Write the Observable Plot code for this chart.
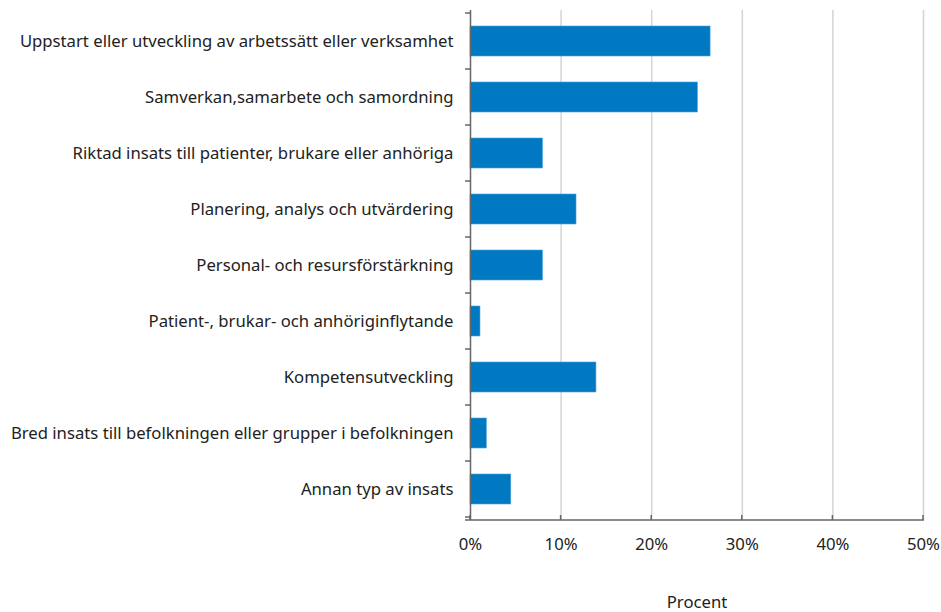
<!DOCTYPE html>
<html>
<head>
<meta charset="utf-8">
<script src="https://cdn.jsdelivr.net/npm/d3@7"></script>
<script src="https://cdn.jsdelivr.net/npm/@observablehq/plot@0.6"></script>
<style>
  html, body { margin: 0; padding: 0; background: #fff; }
  svg { font-family: "Noto Sans", sans-serif; }
</style>
</head>
<body>
<div id="chart"></div>
<script>
const categories = [
  "Uppstart eller utveckling av arbetssätt eller verksamhet",
  "Samverkan,samarbete och samordning",
  "Riktad insats till patienter, brukare eller anhöriga",
  "Planering, analys och utvärdering",
  "Personal- och resursförstärkning",
  "Patient-, brukar- och anhöriginflytande",
  "Kompetensutveckling",
  "Bred insats till befolkningen eller grupper i befolkningen",
  "Annan typ av insats"
];
const values = [26.5, 25.1, 8.0, 11.7, 8.0, 1.1, 13.9, 1.8, 4.5];
const xTicks = [0, 10, 20, 30, 40, 50];
const xLabel = "Procent";

const data = categories.map((c, i) => ({category: c, value: values[i]}));

const chart = Plot.plot({
  width: 941,
  height: 612,
  marginTop: 10,
  marginBottom: 92,
  marginLeft: 470,
  marginRight: 18,
  style: {fontSize: "16.7px", fontFamily: "'Noto Sans', sans-serif", color: "#222"},
  x: {domain: [0, 50], ticks: xTicks, tickFormat: d => d + "%", tickSize: 0, tickPadding: 18, label: null},
  y: {domain: categories, paddingInner: 0.46, paddingOuter: 0.23, tickSize: 0, tickPadding: 17, label: null},
  marks: [
    Plot.ruleX(xTicks.filter(d => d > 0), {stroke: "#d4d4d4", strokeWidth: 1.5}),
    Plot.barX(data, {y: "category", x: "value", fill: "#0079c2", stroke: "#4aa3dc", strokeWidth: 0.6}),
    Plot.ruleX([0], {stroke: "#666", strokeWidth: 1.5}),
    Plot.text([xLabel], {frameAnchor: "bottom", dy: 87, fontSize: 16.7, fill: "#222"})
  ]
});

// axis decorations drawn from the library's own scales
const xs = chart.scale("x");
const ys = chart.scale("y");
const svg = d3.select(chart);
const yBot = ys.range[1];
const g = svg.append("g").attr("stroke", "#666").attr("stroke-width", 1.5);
const x0 = xs.apply(0);
// x axis baseline
g.append("line").attr("x1", x0 - 5).attr("x2", xs.apply(50) + 1).attr("y1", yBot).attr("y2", yBot);
// x ticks (upward)
xTicks.forEach(t => {
  g.append("line").attr("x1", xs.apply(t)).attr("x2", xs.apply(t)).attr("y1", yBot).attr("y2", yBot - 5);
});
// y boundary ticks (leftward)
const step = ys.step;
const off = (step - ys.bandwidth) / 2;
const bounds = categories.map(c => ys.apply(c) - off);
bounds.push(ys.apply(categories[categories.length - 1]) - off + step);
bounds.forEach(b => {
  g.append("line").attr("x1", x0 - 5).attr("x2", x0).attr("y1", b).attr("y2", b);
});

document.getElementById("chart").append(chart);
</script>
</body>
</html>
